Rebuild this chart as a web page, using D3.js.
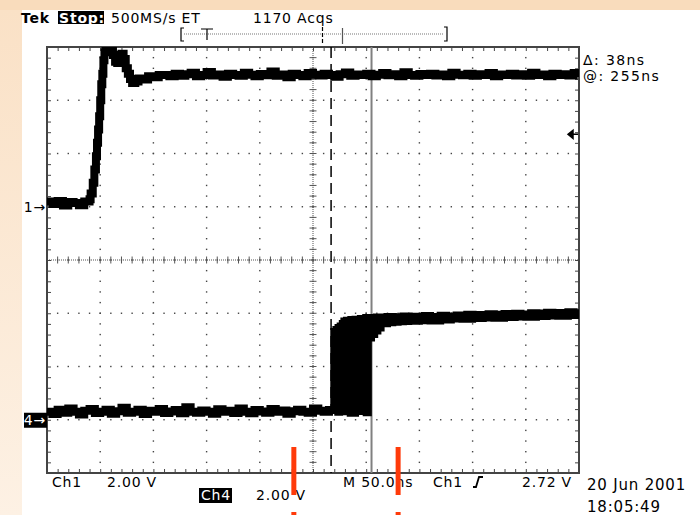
<!DOCTYPE html>
<html>
<head>
<meta charset="utf-8">
<script src="https://cdn.jsdelivr.net/npm/d3@7"></script>
<style>
  body { margin: 0; background: #fff; }
  svg { display: block; }
  text { font-family: "DejaVu Sans", sans-serif; font-size: 14px; letter-spacing: 0.8px; fill: #000; }
</style>
</head>
<body>
<svg width="700" height="515"></svg>
<script>
// scope settings
const timePerDiv = 50;        // ns
const ch1VoltsPerDiv = 2;
const ch4VoltsPerDiv = 2;
const ch1Position = 1;        // divisions
const ch4Position = -3;
const cursorTimes = [17, 55]; // ns, dashed and solid
const triggerLevel = 2.72;    // V on ch1
const redMarkTimes = [-18, 80];

const headerTexts = ["500MS/s ET", "1170 Acqs"];
const readoutTexts = ["\u0394: 38ns", "@: 255ns"];
const footerTexts = ["Ch1", "2.00 V", "Ch4", "2.00 V", "M 50.0ns", "Ch1", "2.72 V"];
const stampTexts = ["20 Jun 2001", "18:05:49"];

// ch1 waveform (ns, V)
const ch1LowStart = -250;
const ch1Low = [0.20, 0.10, 0.22, 0.05, 0.18, 0.14, 0.06, 0.20, 0.28];
const ch1Edge = [[-209, 0.5], [-207, 0.9], [-205.5, 1.4], [-204, 1.9], [-203, 2.4], [-202, 2.9],
  [-201, 3.4], [-200, 4.0], [-199, 4.6], [-198, 5.0], [-197, 5.5], [-196, 5.8], [-195, 5.95],
  [-193, 6.0], [-190, 5.95], [-188, 5.7], [-186, 5.45], [-184, 5.4], [-182, 5.6], [-180, 5.75],
  [-178, 5.55], [-176, 5.2], [-174, 5.0], [-172, 4.8], [-170, 4.65], [-167, 4.7], [-164, 4.82],
  [-160, 4.78], [-155, 4.9], [-150, 4.86], [-145, 4.95]];
const ch1HighStart = -140;
const ch1High = [
  4.95, 4.90, 5.00, 4.92, 4.98, 5.03, 4.90, 4.95, 5.06, 4.93,
  4.97, 4.88, 5.00, 4.95, 4.92, 5.03, 4.96, 4.90, 4.99, 4.94,
  5.08, 4.92, 4.97, 4.86, 5.00, 4.95, 4.90, 5.02, 4.96, 4.93,
  5.00, 4.95, 4.88, 4.98, 5.04, 4.92, 4.97, 4.95, 5.00, 4.90,
  4.96, 5.02, 4.94, 4.98, 4.90, 5.05, 4.95, 4.92, 4.99, 4.95,
  5.00, 4.93, 4.97, 4.90, 5.03, 4.96, 4.94, 5.00, 4.92, 4.98,
  4.95, 5.02, 4.90, 4.97, 4.95, 5.00, 4.93, 4.98, 4.92, 5.03,
  4.95, 4.97, 4.90, 5.00, 4.95, 4.98, 4.93, 5.02, 4.96];

// ch4 waveform, early edge of the jitter band
const ch4LowStart = -250;
const ch4Low = [
  0.30, 0.22, 0.38, 0.26, 0.42, 0.30, 0.20, 0.34, 0.40, 0.25,
  0.30, 0.38, 0.23, 0.32, 0.45, 0.26, 0.30, 0.38, 0.22, 0.34,
  0.30, 0.40, 0.25, 0.31, 0.37, 0.24, 0.47, 0.30, 0.26, 0.35,
  0.30, 0.23, 0.39, 0.30, 0.34, 0.25, 0.42, 0.30, 0.24, 0.37,
  0.31, 0.26, 0.40, 0.30, 0.35, 0.23, 0.32, 0.38, 0.30, 0.26,
  0.42, 0.34, 0.30, 0.37];
const ch4EarlyEdge = [[20, 3.3], [22, 3.37], [24, 3.45], [26, 3.5], [28, 3.6], [29.5, 3.69],
  [32, 3.72], [36, 3.75], [40, 3.76]];
const ch4EarlyHighStart = 45;
const ch4EarlyHigh = [
  3.78, 3.82, 3.76, 3.84, 3.80, 3.86, 3.79, 3.85, 3.88, 3.82,
  3.87, 3.84, 3.90, 3.86, 3.83, 3.91, 3.88, 3.86, 3.92, 3.89,
  3.94, 3.88, 3.93, 3.91, 3.96, 3.90, 3.94, 3.97, 3.92, 3.98,
  3.95, 3.93, 4.00, 3.96, 3.99, 4.02, 3.97, 4.01, 3.99, 4.04,
  4.00, 4.03];
// late edge of the jitter band
const ch4LateLowStart = 20;
const ch4LateLow = [0.28, 0.36, 0.30, 0.24, 0.37, 0.31, 0.26];
const ch4LateEdge = [[52, 3.07], [55, 3.2], [58, 3.33], [61, 3.45], [64, 3.61], [70, 3.64],
  [75, 3.66], [80, 3.68], [85, 3.69]];
const ch4LateHighStart = 90;
const ch4LateHigh = [3.70, 3.72, 3.71, 3.75, 3.78, 3.77, 3.80, 3.82, 3.81, 3.84, 3.86, 3.85,
  3.88, 3.90, 3.89, 3.92, 3.93];

const sampled = (start, step, values) => values.map((v, i) => [start + i * step, v]);

const ch1 = [].concat(sampled(ch1LowStart, 5, ch1Low), ch1Edge, sampled(ch1HighStart, 5, ch1High));
const ch4Early = [].concat(sampled(ch4LowStart, 5, ch4Low), ch4EarlyEdge,
  sampled(ch4EarlyHighStart, 5, ch4EarlyHigh));
const ch4Late = [].concat(sampled(ch4LateLowStart, 5, ch4LateLow), ch4LateEdge,
  sampled(ch4LateHighStart, 10, ch4LateHigh));

const svg = d3.select("svg");
const pl = 47, pr = 579, pt = 47, pb = 473;

const x = d3.scaleLinear().domain([-5 * timePerDiv, 5 * timePerDiv]).range([pl, pr]);
const yDiv = d3.scaleLinear().domain([-4, 4]).range([pb, pt]);
const y1 = v => yDiv(v / ch1VoltsPerDiv + ch1Position);
const y4 = v => yDiv(v / ch4VoltsPerDiv + ch4Position);

// background
const defs = svg.append("defs");
const grad = defs.append("linearGradient")
  .attr("id", "side").attr("x1", 0).attr("y1", 0).attr("x2", 0).attr("y2", 1);
grad.append("stop").attr("offset", 0).attr("stop-color", "#fae1c6");
grad.append("stop").attr("offset", 1).attr("stop-color", "#fdf1e4");
defs.append("clipPath").attr("id", "plot")
  .append("rect").attr("x", pl).attr("y", pt).attr("width", pr - pl).attr("height", pb - pt);

svg.append("rect").attr("width", 700).attr("height", 515).attr("fill", "#fff");
svg.append("rect").attr("x", 0).attr("y", 10).attr("width", 22).attr("height", 505).attr("fill", "url(#side)");
svg.append("rect").attr("width", 700).attr("height", 10).attr("fill", "#f9dcbc");

// graticule dots
const majorT = d3.range(-4, 5).map(d => d * timePerDiv);
const minorT = d3.range(-24, 25).map(d => d * timePerDiv / 5);
const majorV = d3.range(-3, 4);
const minorV = d3.range(-19, 20).map(d => d / 5);
const grid = svg.append("g").attr("fill", "#444");
majorT.forEach(t => {
  grid.selectAll(null).data(minorV).join("rect")
    .attr("x", x(t) - 0.7).attr("y", d => yDiv(d) - 0.7).attr("width", 1.4).attr("height", 1.4);
});
majorV.forEach(v => {
  grid.selectAll(null).data(minorT).join("rect")
    .attr("x", d => x(d) - 0.7).attr("y", yDiv(v) - 0.7).attr("width", 1.4).attr("height", 1.4);
});

// centre cross
const cross = svg.append("g").attr("stroke", "#555").attr("stroke-width", 1);
cross.append("line").attr("x1", x(0)).attr("x2", x(0)).attr("y1", pt).attr("y2", pb)
  .attr("stroke-dasharray", "1,1");
cross.append("line").attr("x1", pl).attr("x2", pr).attr("y1", yDiv(0)).attr("y2", yDiv(0))
  .attr("stroke-dasharray", "1,1");
cross.selectAll(null).data(minorT).join("line")
  .attr("x1", d => x(d)).attr("x2", d => x(d)).attr("y1", yDiv(0) - 3.5).attr("y2", yDiv(0) + 3.5);
cross.selectAll(null).data(minorV).join("line")
  .attr("y1", d => yDiv(d)).attr("y2", d => yDiv(d)).attr("x1", x(0) - 3.5).attr("x2", x(0) + 3.5);

// frame ticks via axes
const tickAxis = (axis, scale, vals) => axis(scale).tickValues(vals).tickSize(-4).tickFormat("");
const frame = svg.append("g").attr("color", "#444");
frame.append("g").attr("transform", `translate(0,${pt})`).call(tickAxis(d3.axisTop, x, minorT));
frame.append("g").attr("transform", `translate(0,${pb})`).call(tickAxis(d3.axisBottom, x, minorT));
frame.append("g").attr("transform", `translate(${pl},0)`).call(tickAxis(d3.axisLeft, yDiv, minorV));
frame.append("g").attr("transform", `translate(${pr},0)`).call(tickAxis(d3.axisRight, yDiv, minorV));
frame.selectAll(".domain").remove();
svg.append("rect").attr("x", pl).attr("y", pt).attr("width", pr - pl).attr("height", pb - pt)
  .attr("fill", "none").attr("stroke", "#444").attr("stroke-width", 2);

// cursors
svg.append("line").attr("x1", x(cursorTimes[0])).attr("x2", x(cursorTimes[0]))
  .attr("y1", pt).attr("y2", pb).attr("stroke", "#000").attr("stroke-width", 1.5)
  .attr("stroke-dasharray", "11,6");
svg.append("line").attr("x1", x(cursorTimes[1])).attr("x2", x(cursorTimes[1]))
  .attr("y1", pt).attr("y2", pb).attr("stroke", "#808080").attr("stroke-width", 2);

// traces
const traces = svg.append("g").attr("clip-path", "url(#plot)");
const stepLine = yFn => d3.line().x(d => x(d[0])).y(d => yFn(d[1])).curve(d3.curveStepAfter);
const expand = pts => pts.flatMap((p, i) => i < pts.length - 1 ? [p, [pts[i + 1][0], p[1]]] : [p]);

const band = expand(ch4Early.filter(d => d[0] >= ch4LateLowStart)).concat(expand(ch4Late).reverse());
traces.append("path")
  .attr("d", d3.line().x(d => x(d[0])).y(d => y4(d[1]))(band) + "Z")
  .attr("fill", "#000");
[[ch1, y1, 8], [ch4Early, y4, 8], [ch4Late, y4, 7]].forEach(([data, yFn, w]) => {
  traces.append("path").datum(data).attr("d", stepLine(yFn))
    .attr("fill", "none").attr("stroke", "#000").attr("stroke-width", w)
    .attr("stroke-linejoin", "miter");
});

// channel ground markers
svg.append("text").attr("x", 46).attr("y", y1(0) + 5).attr("text-anchor", "end").text("1\u2192");
svg.append("rect").attr("x", 24).attr("y", y4(0) - 7).attr("width", 23).attr("height", 15).attr("fill", "#000");
svg.append("text").attr("x", 46).attr("y", y4(0) + 5).attr("text-anchor", "end")
  .style("fill", "#fff").text("4\u2192");

// trigger level arrow
const ty = y1(triggerLevel);
svg.append("path").attr("d", `M${pr - 11},${ty} l5,-4 v8 Z M${pr - 7},${ty} H${pr - 1}`)
  .attr("fill", "#000").attr("stroke", "#000").attr("stroke-width", 1.5);

// header
svg.append("text").attr("x", 21).attr("y", 23).style("font-weight", "bold").text("Tek");
svg.append("rect").attr("x", 58).attr("y", 11).attr("width", 46).attr("height", 13).attr("fill", "#000");
svg.append("text").attr("x", 59).attr("y", 23).style("fill", "#fff").style("font-weight", "bold").text("Stop:");
svg.append("text").attr("x", 111).attr("y", 23).text(headerTexts[0]);
svg.append("text").attr("x", 253).attr("y", 23).text(headerTexts[1]);

// record view bar
const rec = svg.append("g").attr("stroke", "#000").attr("fill", "none").attr("stroke-width", 1.2);
rec.append("path").attr("d", "M184,28 h-3 v13 h3 M444,27 h3 v14 h-3");
rec.append("line").attr("x1", 184).attr("x2", 444).attr("y1", 34).attr("y2", 34)
  .attr("stroke", "#777").attr("stroke-dasharray", "1,1");
rec.append("path").attr("d", "M201,29 h12 M207,29 v11");
rec.append("line").attr("x1", 322.5).attr("x2", 322.5).attr("y1", 27).attr("y2", 44).attr("stroke-dasharray", "4,2");
rec.append("line").attr("x1", 342.5).attr("x2", 342.5).attr("y1", 28).attr("y2", 44).attr("stroke", "#555");

// cursor readouts
svg.append("text").attr("x", 583).attr("y", 65).style("letter-spacing", "1.4px").text(readoutTexts[0]);
svg.append("text").attr("x", 583).attr("y", 81).style("letter-spacing", "1.4px").text(readoutTexts[1]);

// footer
svg.append("text").attr("x", 52).attr("y", 487).text(footerTexts[0]);
svg.append("text").attr("x", 107).attr("y", 487).text(footerTexts[1]);
svg.append("rect").attr("x", 199).attr("y", 488).attr("width", 33).attr("height", 15).attr("fill", "#000");
svg.append("text").attr("x", 201).attr("y", 500).style("fill", "#fff").text(footerTexts[2]);
svg.append("text").attr("x", 256).attr("y", 500).text(footerTexts[3]);
svg.append("text").attr("x", 343).attr("y", 487).text(footerTexts[4]);
svg.append("text").attr("x", 433).attr("y", 487).text(footerTexts[5]);
svg.append("path").attr("d", "M473,487 h3 l3,-10 h4").attr("fill", "none").attr("stroke", "#000").attr("stroke-width", 1.8);
svg.append("text").attr("x", 522).attr("y", 487).text(footerTexts[6]);
svg.append("text").attr("x", 587).attr("y", 490).style("font-size", "15px").text(stampTexts[0]);
svg.append("text").attr("x", 587).attr("y", 512).style("font-size", "15px").text(stampTexts[1]);

// red markers
const red = svg.append("g").attr("fill", "#ff3a0a");
redMarkTimes.forEach(t => {
  red.append("rect").attr("x", x(t) - 2.5).attr("y", 447).attr("width", 5).attr("height", 48);
  red.append("rect").attr("x", x(t) - 2.5).attr("y", 512).attr("width", 5).attr("height", 3);
});
</script>
</body>
</html>
